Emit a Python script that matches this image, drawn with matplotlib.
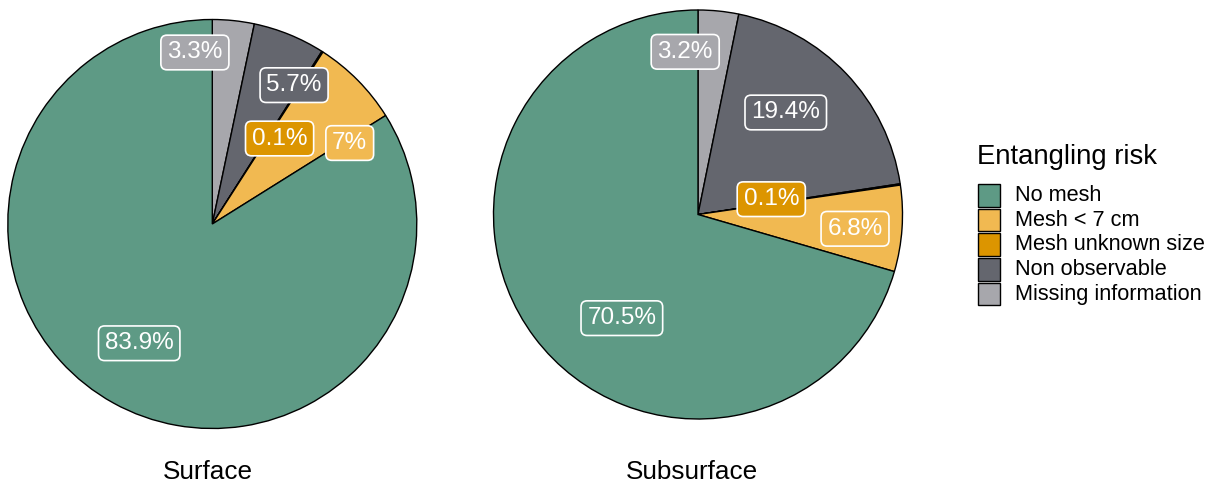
import matplotlib
matplotlib.use("Agg")
import matplotlib.pyplot as plt
from matplotlib.patches import Rectangle
import numpy as np

plt.rcParams['font.family'] = ['Liberation Sans', 'DejaVu Sans']

# ---- data ----
categories = ['No mesh', 'Mesh < 7 cm', 'Mesh unknown size', 'Non observable', 'Missing information']
surface = [83.9, 7, 0.1, 5.7, 3.3]
subsurface = [70.5, 6.8, 0.1, 19.4, 3.2]
panel_titles = ['Surface', 'Subsurface']
legend_title = 'Entangling risk'

# ---- style ----
colors = ['#5E9A85', '#F1B951', '#DC9500', '#64666E', '#A7A7AC']

# label placement (angle clockwise from top in deg, radius fraction), legend order
surface_lab_ang = [211.5, 59.5, 38.2, 30.5, -5.8]
surface_lab_rad = [0.684, 0.780, 0.532, 0.788, 0.843]
subsurface_lab_ang = [216.3, 95.2, 78.2, 40.7, -4.5]
subsurface_lab_rad = [0.629, 0.771, 0.366, 0.658, 0.798]

W, H = 1220, 487
fig = plt.figure(figsize=(W / 100, H / 100), dpi=100)

R = 204.5
panels = [
    (surface, surface_lab_ang, surface_lab_rad, (212.3, 224.0), 207.5),
    (subsurface, subsurface_lab_ang, subsurface_lab_rad, (698.0, 214.5), 692.0),
]

for (vals, angs, rads, (cx, cy), tx), title in zip(panels, panel_titles):
    ax = fig.add_axes([(cx - R) / W, (H - cy - R) / H, 2 * R / W, 2 * R / H])
    ax.pie(vals[::-1], colors=colors[::-1], startangle=90, counterclock=False,
           radius=1.0, wedgeprops=dict(edgecolor='black', linewidth=1.0))
    ax.set_xlim(-1.0, 1.0)
    ax.set_ylim(-1.0, 1.0)
    ax.set_aspect('auto')
    ax.axis('off')
    for v, c, a, r in zip(vals, colors, angs, rads):
        th = np.deg2rad(a)
        ax.text(r * np.sin(th), r * np.cos(th), f"{v:g}%", ha='center', va='center',
                fontsize=17.5, color='white',
                bbox=dict(boxstyle='round,pad=0.26,rounding_size=0.25', fc=c, ec='white', lw=1.2))
    fig.text(tx / W, 1 - 479 / H, title, ha='center', va='baseline', fontsize=18.8, color='black')

# ---- legend ----
lg = fig.add_axes([0, 0, 1, 1])
lg.set_xlim(0, W)
lg.set_ylim(H, 0)
lg.axis('off')
lg.text(977, 157, legend_title, ha='left', va='center', fontsize=19.8, color='black')
key_top0 = 184.0
key_step = 24.7
for i, (cat, c) in enumerate(zip(categories, colors)):
    top = key_top0 + i * key_step
    lg.add_patch(Rectangle((978, top), 22, 22.5, facecolor=c, edgecolor='black', lw=1.0))
    lg.text(1015, top + 11.5, cat, ha='left', va='center', fontsize=15.7, color='black')

fig.savefig('out.png', dpi=100)
